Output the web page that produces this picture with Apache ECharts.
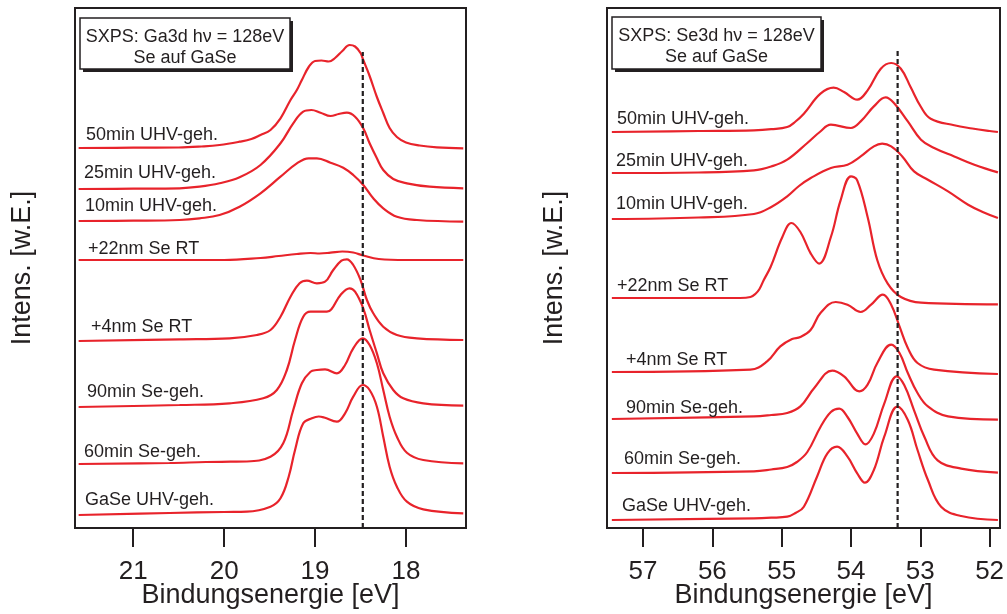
<!DOCTYPE html>
<html>
<head>
<meta charset="utf-8">
<script src="https://cdn.jsdelivr.net/npm/echarts@6/dist/echarts.min.js"></script>
<style>
  html, body { margin: 0; padding: 0; background: #ffffff; }
  #chart { width: 1007px; height: 614px; }
</style>
</head>
<body>
<div id="chart"></div>
<script>
// Ga 3d core level spectra, [binding energy (eV), intensity above baseline]
const ga3d_50min = [[21.6,0],[21.0,0.3],[20.5,0.5],[20.25,1.5],[20.05,3],[19.83,6.3],[19.7,9],[19.6,13],[19.49,18],[19.38,29.7],[19.27,48],[19.2,58],[19.145,68],[19.07,81],[19.0,87],[18.93,87.5],[18.85,86.5],[18.78,90],[18.7,97],[18.62,103],[18.56,101.5],[18.5,95],[18.47,88],[18.4,72],[18.32,51],[18.25,35],[18.18,20],[18.1,11],[18.0,5.5],[17.85,2.5],[17.66,0.7],[17.37,-0.3]];
const ga3d_25min = [[21.6,0],[21.0,0.3],[20.49,0.7],[20.27,2.3],[20.05,5.7],[19.83,11.7],[19.6,24],[19.38,45.7],[19.24,65.7],[19.13,77.3],[19.04,79],[18.94,76.3],[18.83,73],[18.74,75],[18.65,76.3],[18.56,72.3],[18.47,60.7],[18.4,45.7],[18.32,30.7],[18.25,19],[18.14,10],[17.99,5.7],[17.74,2.3],[17.37,0.7]];
const ga3d_10min = [[21.6,0],[21.0,0.3],[20.49,1],[20.27,2.7],[20.05,6],[19.83,14.3],[19.6,27.7],[19.38,44.3],[19.2,57.7],[19.07,62.7],[18.98,62.7],[18.83,58.3],[18.69,53.3],[18.58,46],[18.47,36],[18.36,22.7],[18.25,12.7],[18.1,4.3],[17.88,1],[17.37,-0.7]];
const ga3d_22nm = [[21.6,0],[20.0,0],[19.6,2],[19.4,4],[19.2,6],[19.05,7],[18.95,6.5],[18.83,7.3],[18.7,8.5],[18.58,7.5],[18.47,4.5],[18.3,1],[18.0,0],[17.37,0]];
const ga3d_4nm = [[21.6,0],[20.49,1.7],[19.94,2.7],[19.64,6],[19.49,11],[19.38,24.3],[19.27,44.3],[19.17,57.7],[19.09,60.3],[18.98,57.7],[18.89,59.3],[18.8,71],[18.71,80.3],[18.65,81.7],[18.58,76],[18.5,61],[18.43,41],[18.36,27.7],[18.25,14.3],[18.1,6],[17.88,2.7],[17.37,1]];
const ga3d_90min = [[21.6,0],[20.49,2],[19.94,3.7],[19.57,8.7],[19.42,17],[19.31,37],[19.22,67],[19.13,90.3],[19.05,95.3],[18.94,95.3],[18.87,95.3],[18.82,97.7],[18.72,112],[18.62,118.7],[18.56,115.3],[18.47,98.7],[18.4,77],[18.32,53.7],[18.25,33.7],[18.14,17],[18.03,8.7],[17.81,3.7],[17.37,1.3]];
const ga3d_60min = [[21.6,0],[20.6,1],[20.2,2],[19.93,2.3],[19.75,2.5],[19.49,7.3],[19.35,20.7],[19.24,54],[19.145,80.7],[19.05,92.3],[18.98,94],[18.89,94.7],[18.76,90.7],[18.67,99],[18.58,115.7],[18.475,125.7],[18.4,119],[18.32,100.7],[18.25,74],[18.18,47.3],[18.1,27.3],[17.99,11.3],[17.81,4],[17.37,0.7]];
const ga3d_GaSe = [[21.6,0],[20.6,2],[20.0,3],[19.75,3.3],[19.49,8.3],[19.38,16.7],[19.29,38.3],[19.22,65],[19.13,91.7],[19.035,96.7],[18.96,98.5],[18.9,97.5],[18.76,93.3],[18.67,101.7],[18.58,118.3],[18.475,130],[18.4,125],[18.32,108.3],[18.25,78.3],[18.18,48.3],[18.1,28.3],[17.99,13.3],[17.81,5.7],[17.37,1.7]];

// Se 3d core level spectra
const se3d_50min = [[57.45,0],[56.2,1],[55.4,1.7],[55.15,2.8],[54.92,5],[54.8,10.5],[54.68,18.3],[54.44,38.3],[54.25,44.3],[54.1,40],[53.91,32.3],[53.76,41.7],[53.57,63.3],[53.42,69],[53.28,63.3],[53.14,45],[52.99,25],[52.85,13.3],[52.51,6.7],[52.25,3.5],[52.0,1],[51.88,0]];
const se3d_25min = [[57.45,0],[56.2,0.5],[55.4,2.6],[55.15,6.5],[54.92,13.3],[54.63,30],[54.45,41],[54.29,48.3],[54.0,45],[53.86,51.6],[53.67,66.6],[53.5,75.6],[53.38,70],[53.18,51.6],[52.99,33.3],[52.8,25],[52.51,16.6],[52.22,8.3],[51.88,0.6]];
const se3d_10min = [[57.45,0],[56.2,1.5],[55.4,5],[55.15,12],[54.92,22.6],[54.75,33],[54.58,41],[54.29,51],[54.05,54.3],[53.86,62.6],[53.67,72.6],[53.55,75.3],[53.42,72.6],[53.26,62.6],[53.09,47.6],[52.89,39.3],[52.6,27.6],[52.31,14.3],[52.1,7],[51.88,1]];
const se3d_22nm = [[57.45,0],[56.0,0],[55.6,0],[55.45,1],[55.38,4],[55.32,9],[55.26,17.7],[55.16,31],[54.99,61],[54.86,75],[54.73,66],[54.58,44.4],[54.46,34.4],[54.29,61],[54.15,97.7],[54.0,121.7],[53.91,117.7],[53.76,81],[53.62,37.7],[53.47,14.4],[53.28,1],[52.99,-4.6],[51.88,-6.3]];
const se3d_4nm = [[57.45,0],[55.45,2.3],[55.21,10.6],[55.02,25.6],[54.85,33],[54.73,35],[54.58,42.3],[54.44,59],[54.22,70],[54.05,67.3],[53.86,60],[53.71,67.3],[53.54,77.3],[53.42,67.3],[53.3,45.6],[53.18,24],[53.04,9],[52.8,2.3],[51.88,-2]];
const se3d_90min = [[57.45,0],[55.4,2.6],[55.15,4],[54.92,6],[54.73,12.6],[54.53,31],[54.27,48.3],[54.1,42.6],[53.88,27.6],[53.76,34.3],[53.62,56],[53.42,74.3],[53.3,66],[53.18,46],[53.04,26],[52.89,12.6],[52.6,2.6],[51.88,-0.7]];
const se3d_60min = [[57.45,0],[55.4,1.7],[55.15,3.5],[54.92,6],[54.78,11],[54.63,21],[54.44,46],[54.29,61],[54.17,64.4],[54.05,56],[53.91,39.4],[53.79,28.7],[53.67,39.4],[53.52,69.4],[53.34,96.7],[53.23,87.7],[53.09,62.7],[52.94,36],[52.75,12.7],[52.41,4.4],[51.88,0.4]];
const se3d_GaSe = [[57.45,0],[55.4,1.7],[55.15,2.3],[54.92,3.3],[54.8,7],[54.68,13.3],[54.49,43.3],[54.34,66.7],[54.2,73.3],[54.05,63.3],[53.91,46.7],[53.8,37.3],[53.67,50],[53.52,83.3],[53.33,113.3],[53.18,100],[53.04,70],[52.89,40],[52.7,13.3],[52.41,4],[51.88,0]];

// Preparation steps, listed from the top spectrum down
const stepNames = ['50min UHV-geh.', '25min UHV-geh.', '10min UHV-geh.', '+22nm Se RT', '+4nm Se RT', '90min Se-geh.', '60min Se-geh.', 'GaSe UHV-geh.'];
const ga3dSpectra = [ga3d_50min, ga3d_25min, ga3d_10min, ga3d_22nm, ga3d_4nm, ga3d_90min, ga3d_60min, ga3d_GaSe];
const se3dSpectra = [se3d_50min, se3d_25min, se3d_10min, se3d_22nm, se3d_4nm, se3d_90min, se3d_60min, se3d_GaSe];
// Vertical stacking offsets of the spectra (arbitrary units)
const ga3dOffsets = [380, 339, 307, 268, 187, 121, 64, 13];
const se3dOffsets = [396, 355, 309, 230, 156, 109, 55, 8];

// Tick labels on the energy axes
const ga3dTicks = [21, 20, 19, 18];
const se3dTicks = [57, 56, 55, 54, 53, 52];
// Energy ranges of the two panels
const ga3dRange = [17.34, 21.64];
const se3dRange = [51.85, 57.52];
// Reference energies marked by the dashed lines: [energy, top of line]
const ga3dReference = [18.475, 476];
const se3dReference = [53.327, 478];

const titles = [['SXPS: Ga3d h\u03bd = 128eV', 'Se auf GaSe'], ['SXPS: Se3d h\u03bd = 128eV', 'Se auf GaSe']];

const INK = '#231f20';
const RED = '#e8232b';
const FONT = '"Liberation Sans", Arial, Helvetica, sans-serif';

const chart = echarts.init(document.getElementById('chart'), null, { renderer: 'canvas' });

const grids = [
  { left: 75, top: 8, width: 391, height: 520 },
  { left: 607, top: 8, width: 393, height: 520 }
];

function xAxisFor(idx, range, ticks) {
  return {
    type: 'value', gridIndex: idx, inverse: true,
    min: range[0], max: range[1],
    name: 'Bindungsenergie [eV]', nameLocation: 'middle', nameGap: 54, nameMoveOverlap: false,
    nameTextStyle: { fontSize: 27, color: INK, fontFamily: FONT },
    axisLine: { show: true, lineStyle: { color: INK, width: 2 } },
    axisTick: { show: true, customValues: ticks, length: 19, lineStyle: { color: INK, width: 2 } },
    axisLabel: { show: true, customValues: ticks, fontSize: 26, color: INK, fontFamily: FONT, margin: 31 },
    splitLine: { show: false }
  };
}
function yAxisFor(idx) {
  return {
    type: 'value', gridIndex: idx, min: 0, max: 520,
    name: 'Intens. [w.E.]', nameLocation: 'middle', nameGap: 39, nameRotate: 90, nameMoveOverlap: false,
    nameTextStyle: { fontSize: 27, color: INK, fontFamily: FONT },
    axisLine: { show: false }, axisTick: { show: false }, axisLabel: { show: false },
    splitLine: { show: false }
  };
}

const series = [];
function addPanel(idx, spectra, offsets, reference) {
  spectra.forEach((pts, i) => {
    series.push({
      type: 'line', name: stepNames[i], xAxisIndex: idx, yAxisIndex: idx,
      data: pts.map(p => [p[0], p[1] + offsets[i]]),
      smooth: 0.4, showSymbol: false, symbol: 'none', silent: true,
      lineStyle: { color: RED, width: 2.2 }, z: 3
    });
  });
  series.push({
    type: 'line', xAxisIndex: idx, yAxisIndex: idx, silent: true,
    data: [[reference[0], 0], [reference[0], reference[1]]],
    showSymbol: false, symbol: 'none',
    lineStyle: { color: INK, width: 2.2, type: [5, 3] }, z: 4
  });
}
addPanel(0, ga3dSpectra, ga3dOffsets, ga3dReference);
addPanel(1, se3dSpectra, se3dOffsets, se3dReference);

// Title boxes with drop shadow
function titleBox(x, y, w, h, lines) {
  return [
    { type: 'rect', shape: { x: x + 3, y: y + 3, width: w, height: h }, style: { fill: INK }, z: 10 },
    { type: 'rect', shape: { x: x, y: y, width: w, height: h }, style: { fill: '#fff', stroke: INK, lineWidth: 1.5 }, z: 11 },
    { type: 'text', x: x + w / 2, y: y + 19, style: { text: lines[0], font: '18px ' + FONT, fill: INK, textAlign: 'center', textVerticalAlign: 'middle' }, z: 12 },
    { type: 'text', x: x + w / 2, y: y + 40, style: { text: lines[1], font: '18px ' + FONT, fill: INK, textAlign: 'center', textVerticalAlign: 'middle' }, z: 12 }
  ];
}

// Curve captions: left edge and vertical middle
const gaLabelPos = [[86, 135], [84, 173.5], [85, 206], [88, 249], [91, 327], [87, 392], [84, 452], [85, 500]];
const seLabelPos = [[617, 119], [616, 161], [616, 204], [617, 286], [626, 360], [626, 408], [624, 459], [622, 506]];
function captions(pos) {
  return pos.map((p, i) => ({
    type: 'text', x: p[0], y: p[1],
    style: { text: stepNames[i], font: '18px ' + FONT, fill: INK, textAlign: 'left', textVerticalAlign: 'middle' },
    z: 12
  }));
}

const graphic = [].concat(
  titleBox(80, 18, 210, 51, titles[0]),
  titleBox(612, 17, 209, 52, titles[1]),
  captions(gaLabelPos),
  captions(seLabelPos)
);

chart.setOption({
  backgroundColor: '#ffffff',
  animation: false,
  textStyle: { fontFamily: FONT },
  grid: grids.map(g => Object.assign({ show: true, borderColor: INK, borderWidth: 2, backgroundColor: 'transparent', containLabel: false, outerBoundsMode: 'none' }, g)),
  xAxis: [xAxisFor(0, ga3dRange, ga3dTicks), xAxisFor(1, se3dRange, se3dTicks)],
  yAxis: [yAxisFor(0), yAxisFor(1)],
  series: series,
  graphic: graphic
});
</script>
</body>
</html>
